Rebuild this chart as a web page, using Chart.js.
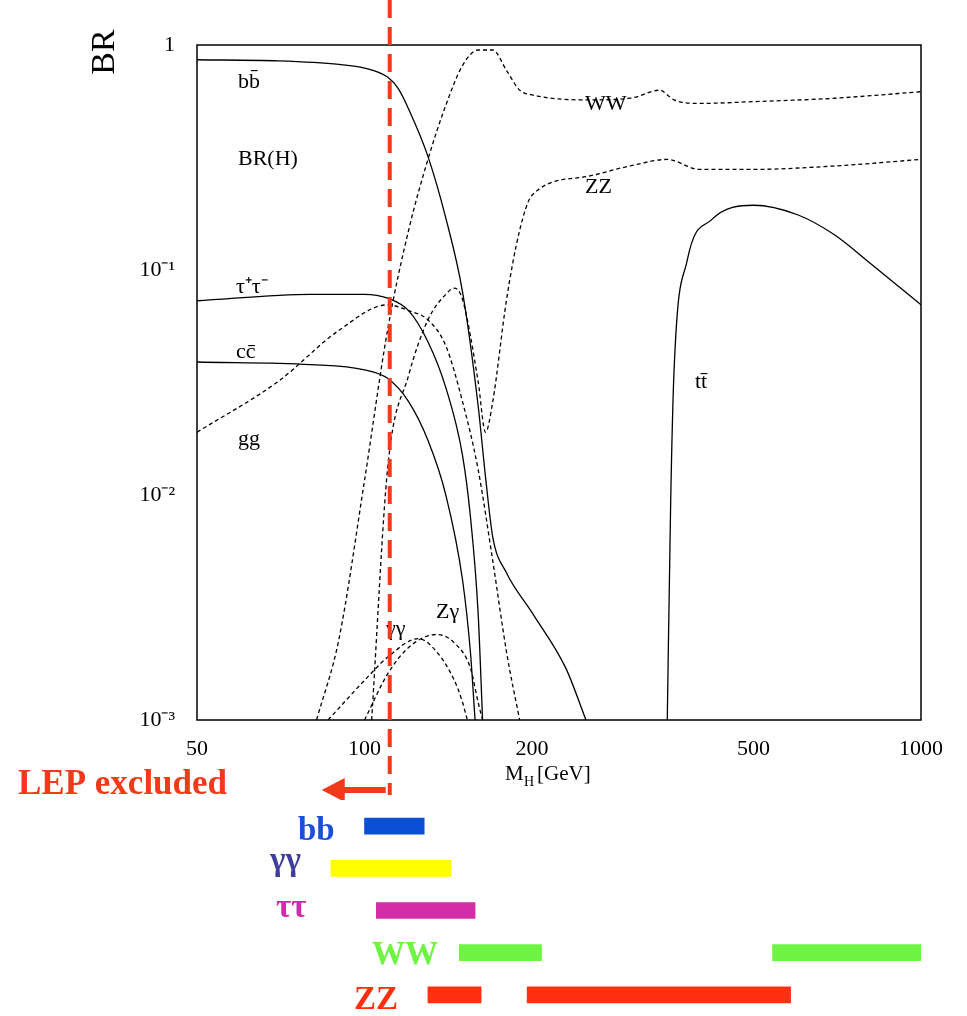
<!DOCTYPE html>
<html><head><meta charset="utf-8">
<script src="https://cdn.jsdelivr.net/npm/chart.js@4"></script>
<style>
body{margin:0;background:#fff;width:967px;height:1016px;position:relative;overflow:hidden;font-family:"Liberation Serif",serif}
#c1{position:absolute;left:0;top:0}
#c2{position:absolute;left:0;top:805px}
.lab{position:absolute;font-weight:bold;font-size:33px;font-family:"Liberation Serif",serif}
</style></head><body>
<canvas id="c1" width="967" height="800"></canvas>
<canvas id="c2" width="967" height="211"></canvas>
<div class="lab" style="left:298px;top:811px;color:#1a4fd8">bb</div>
<div class="lab" style="left:270px;top:841px;color:#3f3f9a">γγ</div>
<div class="lab" style="left:276px;top:888px;color:#d22aa8">ττ</div>
<div class="lab" style="left:372px;top:935px;color:#6ef542">WW</div>
<div class="lab" style="left:354px;top:980px;color:#ff3010">ZZ</div>
<script>
const bbM=[50,70,90,100,110,115,120,130,140,150,160,165,170,180,200,230,250];
const bbV=[0.86,0.85,0.82,0.79,0.72,0.64,0.52,0.32,0.17,0.08,0.025,0.012,0.0065,0.0045,0.003,0.0017,0.001];
const tauM=[50,80,100,110,120,130,140,150,155,160,163];
const tauV=[0.073,0.078,0.078,0.075,0.066,0.048,0.03,0.015,0.008,0.003,0.001];
const ccM=[50,80,100,110,120,130,140,150,155,158];
const ccV=[0.039,0.038,0.036,0.033,0.026,0.0175,0.01,0.0042,0.002,0.001];
const ggM=[50,70,90,110,120,130,140,150,160,170,180,190];
const ggV=[0.019,0.032,0.054,0.07,0.066,0.06,0.046,0.026,0.013,0.0051,0.002,0.001];
const wwM=[82,90,100,110,120,130,140,150,160,170,180,190,200,250,300,340,350,360,400,500,700,1000];
const wwV=[0.001,0.0023,0.0116,0.054,0.15,0.31,0.54,0.81,0.95,0.95,0.77,0.63,0.6,0.57,0.58,0.63,0.6,0.57,0.55,0.56,0.58,0.62];
const zzM=[103,110,120,130,140,145,150,160,165,170,180,190,200,250,300,350,400,500,700,1000];
const zzV=[0.001,0.013,0.034,0.06,0.078,0.083,0.074,0.032,0.019,0.026,0.074,0.15,0.215,0.26,0.29,0.31,0.28,0.28,0.29,0.31];
const aaM=[86,100,110,125,135,145,150,153];
const aaV=[0.001,0.0015,0.0019,0.0023,0.002,0.0015,0.0012,0.001];
const zaM=[100,110,120,135,145,155,160,163];
const zaV=[0.001,0.0016,0.0021,0.0024,0.0022,0.0017,0.0012,0.001];
const ttM=[350,355,360,380,420,500,600,700,800,1000];
const ttV=[0.001,0.0095,0.036,0.11,0.167,0.194,0.176,0.143,0.11,0.07];
const lepLimit=111;
const channels=['bb','γγ','ττ','WW','ZZ'];
const rangeA=[[100,128],[87,143],[105,158],[148,208],[130,162]];
const rangeB=[null,null,null,[541,1006],[196,583]];
const chColors=['#0a4fd6','#ffff00','#d42ca8','#6ef542','#ff3010'];

const pts=(m,v)=>m.map((x,i)=>({x,y:v[i]}));
const ds=(m,v,dash)=>({data:pts(m,v),borderColor:'#000',borderWidth:1.3,borderDash:dash?[4,3]:[],pointRadius:0,showLine:true,cubicInterpolationMode:'monotone',fill:false});
const textLabels=[
 ['bb̄',238,88],['BR(H)',238,165],['τ⁺τ⁻',236,293],['cc̄',236,358],['gg',238,445],
 ['WW',585,110],['ZZ',585,193],['tt̄',695,388],['γγ',386,635],['Zγ',436,618]];
const deco={id:'deco',
 afterDraw(ch){const c=ch.ctx,a=ch.chartArea;c.save();
  c.strokeStyle='#000';c.lineWidth=1.5;c.strokeRect(a.left,a.top,a.right-a.left,a.bottom-a.top);
  c.fillStyle='#000';c.font='22px "Liberation Serif"';
  textLabels.forEach(t=>c.fillText(t[0],t[1],t[2]));
  const xs=ch.scales.x.getPixelForValue(lepLimit);
  c.strokeStyle='#f03a1a';c.lineWidth=4;c.setLineDash([18,9]);
  c.beginPath();c.moveTo(xs,0);c.lineTo(xs,795);c.stroke();c.setLineDash([]);
  c.lineWidth=6;c.beginPath();c.moveTo(xs-4,790);c.lineTo(xs-50,790);c.stroke();
  c.fillStyle='#f03a1a';c.beginPath();c.moveTo(xs-68,790);c.lineTo(xs-45,778);c.lineTo(xs-45,802);c.closePath();c.fill();
  c.font='bold 35px "Liberation Serif"';c.fillText('LEP excluded',18,794);
  c.fillStyle='#000';c.font='21px "Liberation Serif"';c.fillText('M',505,780);
  c.font='14px "Liberation Serif"';c.fillText('H',524,786);
  c.font='21px "Liberation Serif"';c.fillText('[GeV]',537,780);
  c.translate(114,52);c.rotate(-Math.PI/2);c.font='34px "Liberation Serif"';c.textAlign='center';c.fillText('BR',0,0);
  c.restore();}};
const yLab={1:'1',0.1:'10⁻¹',0.01:'10⁻²',0.001:'10⁻³'};
new Chart(document.getElementById('c1'),{type:'scatter',
 data:{datasets:[ds(bbM,bbV),ds(tauM,tauV),ds(ccM,ccV),ds(ttM,ttV),ds(ggM,ggV,1),ds(wwM,wwV,1),ds(zzM,zzV,1),ds(aaM,aaV,1),ds(zaM,zaV,1)]},
 options:{responsive:false,animation:false,layout:{padding:{top:45,right:46,left:0,bottom:0}},
  plugins:{legend:{display:false},tooltip:{enabled:false}},
  scales:{
   x:{type:'logarithmic',min:50,max:1000,grid:{display:false},border:{display:false},
      afterFit(s){s.height=80},
      afterBuildTicks(s){s.ticks=[50,100,200,500,1000].map(v=>({value:v}))},
      ticks:{autoSkip:false,maxRotation:0,color:'#000',font:{family:'Liberation Serif',size:22},padding:8,callback:v=>String(v)}},
   y:{type:'logarithmic',min:0.001,max:1,grid:{display:false},border:{display:false},
      afterFit(s){s.width=197},
      afterBuildTicks(s){s.ticks=[1,0.1,0.01,0.001].map(v=>({value:v}))},
      ticks:{color:'#000',font:{family:'Liberation Serif',size:22},padding:14,callback:v=>yLab[v]||''}}}},
 plugins:[deco]});
new Chart(document.getElementById('c2'),{type:'bar',
 data:{labels:channels,datasets:[
  {data:rangeA,backgroundColor:chColors,barThickness:16,grouped:false},
  {data:rangeB,backgroundColor:chColors,barThickness:16,grouped:false}]},
 options:{indexAxis:'y',responsive:false,animation:false,layout:{padding:{left:197,right:46}},
  plugins:{legend:{display:false},tooltip:{enabled:false}},
  scales:{x:{type:'logarithmic',min:50,max:1000,display:false},y:{display:false}}}});
</script></body></html>
